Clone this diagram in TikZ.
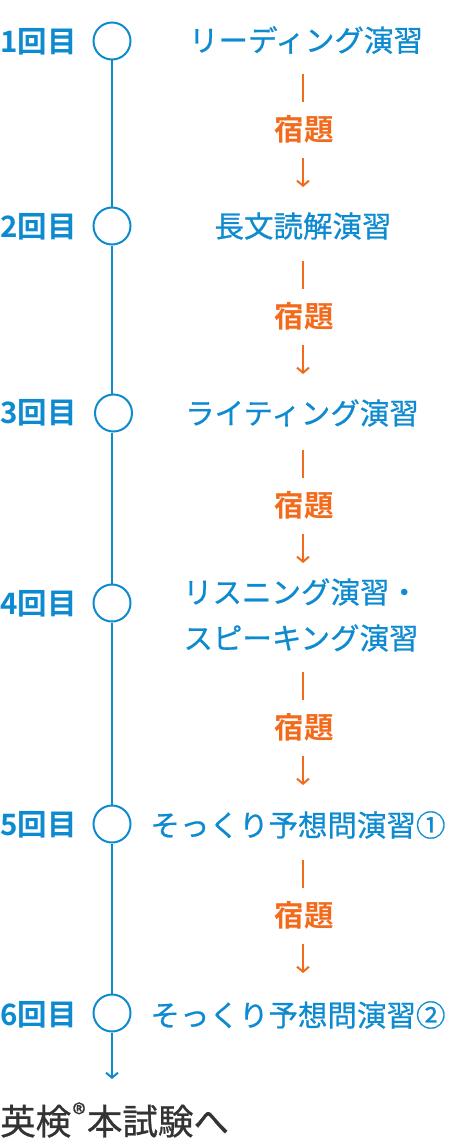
\documentclass[tikz,border=0pt]{standalone}
\usepackage{fontspec}
\setmainfont{Noto Sans CJK JP}[BoldFont={Noto Sans CJK JP Bold}]
\newfontfamily\jpb{Noto Sans CJK JP Bold}
\newfontfamily\jpm{Noto Sans CJK JP}[FakeBold=0.7]
\usetikzlibrary{arrows.meta}
\definecolor{tblue}{HTML}{0E8BD0}
\definecolor{torange}{HTML}{F26A1B}
\definecolor{tdark}{HTML}{333333}
\tikzset{
  x=1pt,y=-1pt,
  dot/.style={circle,draw=tblue,line width=2pt,minimum size=37pt,inner sep=0pt,fill=white},
  numlab/.style={text=tblue,font=\jpb\fontsize{29.5}{32}\selectfont,anchor=west,inner sep=0pt},
  task/.style={text=tblue,font=\jpm\fontsize{29.5}{46}\selectfont,align=center,inner sep=0pt},
  hw/.style={text=torange,font=\jpb\fontsize{29.5}{32}\selectfont,inner sep=0pt},
  tline/.style={draw=tblue,line width=2pt},
  oline/.style={draw=torange,line width=2pt},
  oarrow/.style={draw=torange,line width=2pt,-{Straight Barb[length=5pt,width=12pt,line width=2pt]}},
}
\begin{document}
\begin{tikzpicture}
\useasboundingbox (0,0) rectangle (460,1140);
% circles
\node[dot] (c1) at (112,41) {};
\node[dot] (c2) at (112,226) {};
\node[dot] (c3) at (113.5,413) {};
\node[dot] (c4) at (112,603) {};
\node[dot] (c5) at (112,824) {};
\node[dot] (c6) at (112,1013) {};
\coordinate (end) at (112,1079);
\draw[tline] (c1) -- (c2);
\draw[tline] (c2) -- (c2 |- c3.north);
\draw[tline] (c3.south -| c4) -- (c4);
\draw[tline] (c4) -- (c5);
\draw[tline] (c5) -- (c6);
\draw[tline,-{Straight Barb[length=5pt,width=12pt,line width=2pt]}] (c6) -- (end);
% numbers
\node[numlab] (n1) at (0,42) {1回目};
\node[numlab] (n2) at (0,227) {2回目};
\node[numlab] (n3) at (0,413) {3回目};
\node[numlab] (n4) at (0,604) {4回目};
\node[numlab] (n5) at (0,825) {5回目};
\node[numlab] (n6) at (0,1015) {6回目};
% tasks
\node[task] (t1) at (306,40) {リーディング演習};
\node[task] (t2) at (303,226) {長文読解演習};
\node[task] (t3) at (302,413) {ライティング演習};
\node[task] (t4) at (301,615) {リスニング演習・\\スピーキング演習};
\node[task] (t5) at (298,825) {そっくり予想問演習①};
\node[task] (t6) at (298,1015) {そっくり予想問演習②};
% homework
\node[hw] (h1) at (304,129) {宿題};
\node[hw] (h2) at (304,316) {宿題};
\node[hw] (h3) at (304,505) {宿題};
\node[hw] (h4) at (304,727) {宿題};
\node[hw] (h5) at (304,915) {宿題};
\coordinate (a1s) at (303,74);  \coordinate (a1e) at (303,102);
\coordinate (b1s) at (303,158); \coordinate (b1e) at (303,187);
\coordinate (a2s) at (303,261); \coordinate (a2e) at (303,289);
\coordinate (b2s) at (303,345); \coordinate (b2e) at (303,374);
\coordinate (a3s) at (303,450); \coordinate (a3e) at (303,478);
\coordinate (b3s) at (303,534); \coordinate (b3e) at (303,563);
\coordinate (a4s) at (303,672); \coordinate (a4e) at (303,700);
\coordinate (b4s) at (303,756); \coordinate (b4e) at (303,785);
\coordinate (a5s) at (303,860); \coordinate (a5e) at (303,888);
\coordinate (b5s) at (303,944); \coordinate (b5e) at (303,973);
\foreach \i in {1,...,5}{
  \draw[oline] (a\i s) -- (a\i e);
  \draw[oarrow] (b\i s) -- (b\i e);
}
% final
\node[text=tdark,font=\jpm\fontsize{35.5}{38}\selectfont,anchor=west,inner sep=0pt] (fin) at (0,1120) {英検\kern1.5pt{\raisebox{0.3em}{\fontsize{27}{28}\selectfont ®}}\kern1.5pt本試験へ};
\end{tikzpicture}
\end{document}
